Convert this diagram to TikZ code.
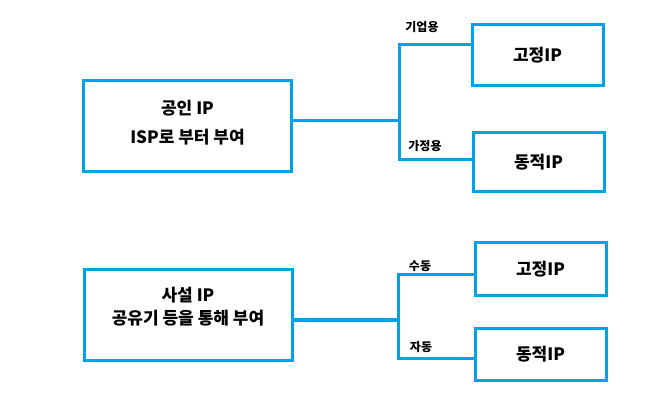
\documentclass[tikz,border=0pt]{standalone}
\usepackage{fontspec}
\setmainfont{Noto Sans CJK KR}
\usetikzlibrary{positioning}

\definecolor{lineblue}{RGB}{0,162,232}

\begin{document}
\begin{tikzpicture}[
		x=1pt, y=-1pt,
		every node/.style={font=\bfseries},
		ipbox/.style={draw=lineblue, line width=3pt, rectangle, minimum width=208pt, minimum height=91pt, inner sep=0pt},
		iptext/.style={align=center, inner sep=0pt, font=\fontsize{17}{17}\bfseries},
		kindbox/.style={draw=lineblue, line width=3pt, rectangle, minimum width=131pt, inner sep=0pt, font=\fontsize{17}{18}\bfseries},
		tag/.style={font=\fontsize{12}{12}\bfseries, inner sep=1pt},
		link/.style={draw=lineblue, line width=3pt}
		]
		\useasboundingbox (0,0) rectangle (666,411);
		% Public IP
		\node[ipbox, label={[iptext, yshift=3.5pt]center:공인 IP \\[12pt] ISP로 부터 부여}] at (187.5,126) (pub) {};
		\node[kindbox, minimum height=61pt] at (537.5,55) (pubfix) {고정IP};
		\node[kindbox, minimum height=59pt] at (538.5,162) (pubdyn) {동적IP};
		\coordinate (pubsplit) at (399,121);
		\coordinate (pubup) at (399,45);
		\coordinate (pubdown) at (399,160);
		
		% Private IP
		\node[ipbox, label={[iptext, yshift=8.5pt]center:사설 IP \\[6pt] 공유기 등을 통해 부여}] at (188,315) (priv) {};
		\node[kindbox, minimum height=53pt] at (540.5,269) (privfix) {고정IP};
		\node[kindbox, minimum height=52pt] at (540.5,354.5) (privdyn) {동적IP};
		\coordinate (privsplit) at (398,320);
		\coordinate (privup) at (398,275);
		\coordinate (privdown) at (398,358);
		
		% connectors
		\draw[link] (pub.east |- pubsplit) -- (pubsplit);
		\draw[link] (pubfix.west |- pubup) -- (pubup) -- (pubdown) -- (pubdyn.west |- pubdown);
		\draw[link] (priv.east |- privsplit) -- (privsplit);
		\draw[link] (privfix.west |- privup) -- (privup) -- (privdown) -- (privdyn.west |- privdown);
		
		% labels
		\node[tag] at (422,27) (biz) {기업용};
		\node[tag] at (425,146) (home) {가정용};
		\node[tag] at (420,266) (manual) {수동};
		\node[tag] at (421,347) (auto) {자동};
	\end{tikzpicture}
\end{document}
